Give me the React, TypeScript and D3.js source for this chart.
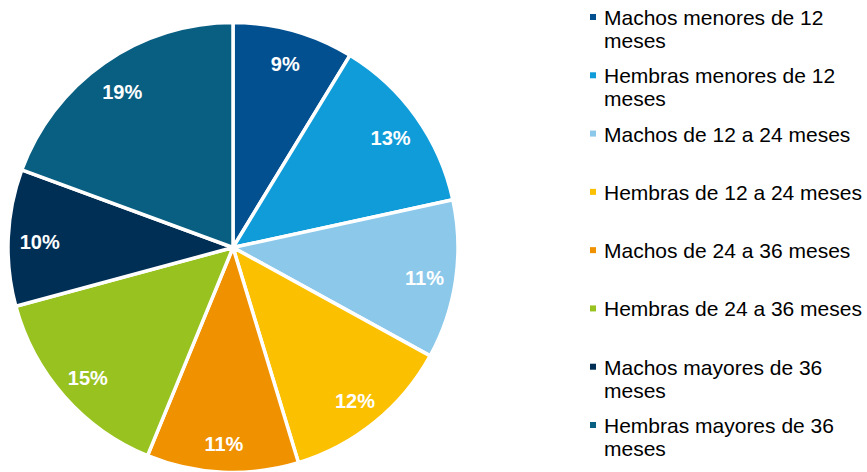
import React, { useRef, useEffect } from "react";
import * as d3 from "d3";

// share of the herd per category (%)
const categories = [
  "Machos menores de 12 meses",
  "Hembras menores de 12 meses",
  "Machos de 12 a 24 meses",
  "Hembras de 12 a 24 meses",
  "Machos de 24 a 36 meses",
  "Hembras de 24 a 36 meses",
  "Machos mayores de 36 meses",
  "Hembras mayores de 36 meses",
];
const values = [8.7, 12.9, 11.4, 12.3, 10.9, 14.6, 9.8, 19.4];
const legendLines = [
  ["Machos menores de 12", "meses"],
  ["Hembras menores de 12", "meses"],
  ["Machos de 12 a 24 meses"],
  ["Hembras de 12 a 24 meses"],
  ["Machos de 24 a 36 meses"],
  ["Hembras de 24 a 36 meses"],
  ["Machos mayores de 36", "meses"],
  ["Hembras mayores de 36", "meses"],
];
const colors = [
  "#035091",
  "#109cd9",
  "#8bc8ea",
  "#fbc000",
  "#f09200",
  "#98c21f",
  "#002f56",
  "#085f82",
];

const W = 867;
const H = 472;
const FONT = "'Liberation Sans', Arial, sans-serif";

function App() {
  const ref = useRef<SVGSVGElement>(null);

  useEffect(() => {
    draw();
  }, []);

  function draw() {
    const svg = d3.select(ref.current);
    svg.selectAll("*").remove();

    const cx = 233;
    const cy = 247.5;
    const r = 225;

    const color = d3.scaleOrdinal<string, string>().domain(categories).range(colors);
    const data = categories.map((c, i) => ({ cat: c, value: values[i] }));

    const pie = d3
      .pie<{ cat: string; value: number }>()
      .value((d) => d.value)
      .sort(null);
    const arcs = pie(data);
    const arc = d3.arc<d3.PieArcDatum<{ cat: string; value: number }>>().innerRadius(0).outerRadius(r);
    const labelArc = d3
      .arc<d3.PieArcDatum<{ cat: string; value: number }>>()
      .innerRadius(r * 0.86)
      .outerRadius(r * 0.86);

    const g = svg.append("g").attr("transform", `translate(${cx},${cy})`);

    g.selectAll("path.slice")
      .data(arcs)
      .enter()
      .append("path")
      .attr("class", "slice")
      .attr("d", arc)
      .attr("fill", (d) => color(d.data.cat))
      .attr("stroke", "#fff")
      .attr("stroke-width", 3.5)
      .attr("stroke-linejoin", "round");

    g.selectAll("text.pct")
      .data(arcs)
      .enter()
      .append("text")
      .attr("class", "pct")
      .attr("transform", (d) => `translate(${labelArc.centroid(d)})`)
      .attr("text-anchor", "middle")
      .attr("dy", "0.5em")
      .attr("fill", "#fff")
      .attr("font-family", FONT)
      .attr("font-weight", "bold")
      .attr("font-size", 20)
      .text((d) => Math.round(d.data.value) + "%");

    // legend
    const rowY = d3.scalePoint<string>().domain(categories).range([25, 433]);
    const rows = svg
      .append("g")
      .selectAll("g.row")
      .data(categories)
      .enter()
      .append("g")
      .attr("class", "row")
      .attr("transform", (d) => `translate(590,${rowY(d)})`);

    rows
      .append("rect")
      .attr("x", 0)
      .attr("y", -11)
      .attr("width", 6)
      .attr("height", 6)
      .attr("fill", (d) => color(d));

    rows
      .append("text")
      .attr("font-family", FONT)
      .attr("font-size", 21)
      .attr("fill", "#000")
      .selectAll("tspan")
      .data((d) => legendLines[categories.indexOf(d)])
      .enter()
      .append("tspan")
      .attr("x", 14)
      .attr("y", (d, i) => i * 23)
      .text((d) => d);
  }

  return (
    <div style={{ position: "absolute", left: 0, top: 0 }}>
      <svg ref={ref} width={W} height={H} style={{ display: "block", background: "#fff" }} />
    </div>
  );
}

export default App;
